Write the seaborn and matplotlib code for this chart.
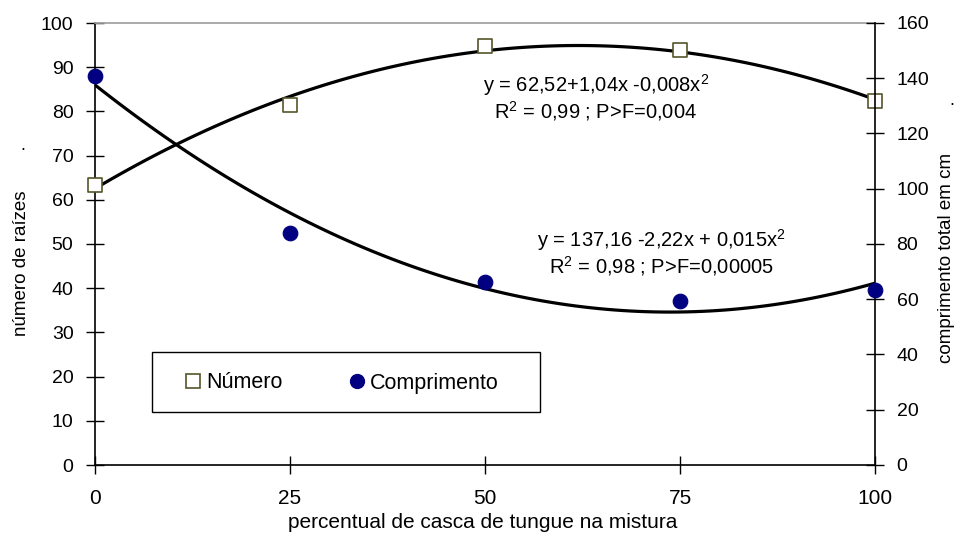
import matplotlib
matplotlib.use("Agg")
import matplotlib.pyplot as plt
import seaborn as sns
import numpy as np
import pandas as pd
from matplotlib.lines import Line2D
from matplotlib.patches import Rectangle

sns.set_theme(style="white")
plt.rcParams['font.family'] = ['Liberation Sans', 'DejaVu Sans']
plt.rcParams['mathtext.fontset'] = 'custom'
plt.rcParams['mathtext.rm'] = 'Liberation Sans'
plt.rcParams['mathtext.it'] = 'Liberation Sans'
plt.rcParams['text.color'] = 'black'
plt.rcParams['axes.labelcolor'] = 'black'
plt.rcParams['xtick.color'] = 'black'
plt.rcParams['ytick.color'] = 'black'

# data
percent = [0, 25, 50, 75, 100]
numero = [63.3, 81.5, 94.8, 93.9, 82.3]
comprimento = [140.8, 84.0, 66.3, 59.4, 63.4]
x_ticks = [0, 25, 50, 75, 100]
left_ticks = list(range(0, 101, 10))
right_ticks = list(range(0, 161, 20))
eq1_l1 = "y = 62,52+1,04x -0,008x$^2$"
eq1_l2 = "R$^2$ = 0,99 ; P>F=0,004"
eq2_l1 = "y = 137,16 -2,22x + 0,015x$^2$"
eq2_l2 = "R$^2$ = 0,98 ; P>F=0,00005"

df = pd.DataFrame({"percent": percent, "numero": numero, "comprimento": comprimento})

W, H = 958, 535
fig = plt.figure(figsize=(W/100, H/100), dpi=100)
AX_L, AX_R, AX_T, AX_B = 95, 875, 23, 465
ax = fig.add_axes([AX_L/W, 1-AX_B/H, (AX_R-AX_L)/W, (AX_B-AX_T)/H])
ax2 = ax.twinx()

def fx(px):
    return px / W

def fy(py):
    return 1 - py / H

def axx(px):
    return (px - AX_L) / (AX_R - AX_L)

def axy(py):
    return (AX_B - py) / (AX_B - AX_T)

sns.regplot(data=df, x="percent", y="numero", order=2, ci=None, scatter=False,
            truncate=True, ax=ax, line_kws=dict(color="black", lw=2.3))
sns.regplot(data=df, x="percent", y="comprimento", order=2, ci=None, scatter=False,
            truncate=True, ax=ax2, line_kws=dict(color="black", lw=2.3))
sns.scatterplot(data=df, x="percent", y="numero", ax=ax, marker="s", s=90,
                facecolor="white", edgecolor="#55552a", linewidth=1.2, zorder=5, clip_on=False)
sns.scatterplot(data=df, x="percent", y="comprimento", ax=ax2, marker="o", s=110,
                color="#000080", edgecolor="#000080", zorder=5, clip_on=False)

ax.set_xlim(0, 100)
ax.set_ylim(0, 100)
ax2.set_ylim(0, 160)
ax.set_xticks(x_ticks)
ax.set_yticks(left_ticks)
ax2.set_yticks(right_ticks)

for a in (ax, ax2):
    for s in a.spines.values():
        s.set_visible(False)
ax.spines['left'].set_visible(True)
ax.spines['bottom'].set_visible(True)
ax2.spines['right'].set_visible(True)
ax.spines['top'].set_visible(True)
ax.spines['top'].set_color("#a0a0a0")
for s in ['left', 'bottom']:
    ax.spines[s].set_color("black")
    ax.spines[s].set_linewidth(1.2)
ax2.spines['right'].set_color("black")
ax2.spines['right'].set_linewidth(1.2)

ax.tick_params(axis='both', which='both', direction='inout', length=13, width=1, color='black',
               labelsize=14, labelcolor='black', left=True, bottom=True)
ax.tick_params(axis='y', pad=9)
ax.tick_params(axis='x', pad=11, labelsize=15)
ax2.tick_params(axis='y', direction='inout', length=13, width=1, color='black',
                labelsize=14, labelcolor='black', right=True, pad=9)

ax.set_xlabel("percentual de casca de tungue na mistura", fontsize=15, color='black')
ax.set_ylabel("número de raízes", fontsize=13.5, color='black')
ax2.set_ylabel("comprimento total em cm", fontsize=13.5, color='black')
ax.xaxis.set_label_coords(axx(483), axy(523))
ax.yaxis.label.set_va('center')
ax2.yaxis.label.set_va('center')
ax.yaxis.set_label_coords(axx(22), axy(263))
ax2.yaxis.set_label_coords(axx(947), axy(258))
ax.xaxis.label.set_va('center')

for (txt, x, y) in [(eq1_l1, 596, 92), (eq1_l2, 596, 118),
                    (eq2_l1, 661, 247), (eq2_l2, 662, 273)]:
    fig.text(fx(x), fy(y), txt, fontsize=14.5, ha='center', va='baseline', color='black')

fig.text(fx(23), fy(150), ".", fontsize=13, ha='center', color='black')
fig.text(fx(952), fy(105), ".", fontsize=13, ha='center', color='black')

# legend box
fig.add_artist(Rectangle((fx(152), fy(412)), fx(540) - fx(152), fy(352) - fy(412),
                         transform=fig.transFigure, facecolor='white', edgecolor='black',
                         linewidth=1.0, zorder=6))
h1 = Line2D([], [], marker='s', ls='', markersize=9.5, markerfacecolor='white',
            markeredgecolor='#55552a', markeredgewidth=1.2)
h2 = Line2D([], [], marker='o', ls='', markersize=10, markerfacecolor='#000080',
            markeredgecolor='#000080')
leg = fig.legend([h1, h2], ["Número", "Comprimento"], ncol=2, loc='center left',
                 bbox_to_anchor=(fx(182), fy(383)), frameon=False, fontsize=15.5,
                 handletextpad=0.12, borderpad=0, columnspacing=2.95, borderaxespad=0,
                 handlelength=1.0, labelcolor='black')
leg.set_zorder(7)

fig.savefig("out.png", dpi=100)
